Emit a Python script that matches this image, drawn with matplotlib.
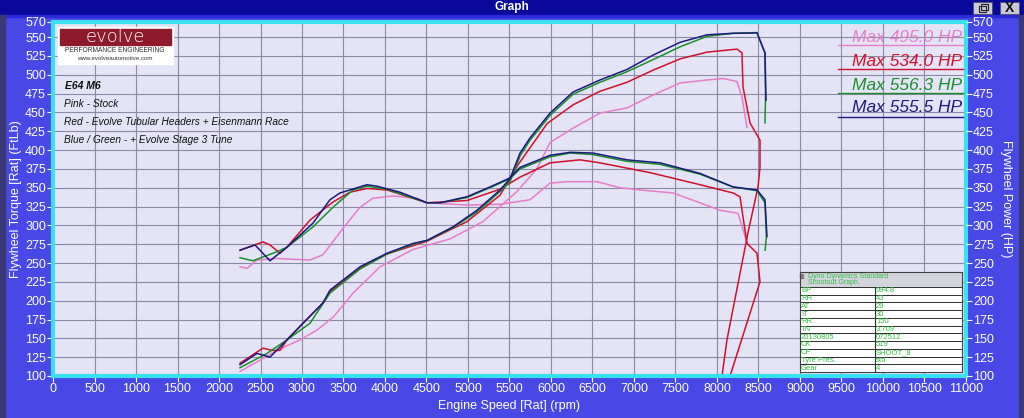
import matplotlib.pyplot as plt
import matplotlib.patches as mpatches
import numpy as np

W, H = 1024, 418

# ---- data ----
pink_tq_rpm = [2253, 2337, 2458, 2699, 3096, 3253, 3494, 3699, 3855, 4096, 4386, 4506, 4988, 5386, 5747, 5988, 6193, 6554, 6831, 7072, 7470, 7795, 8036, 8253, 8361]
pink_tq = [245, 243, 254, 256, 254, 261, 296, 324, 336, 339, 336, 330, 327, 328, 334, 356, 358, 358, 350, 347, 343, 330, 320, 316, 277]
pink_hp_rpm = [2253, 2699, 2976, 3181, 3373, 3542, 3614, 3940, 4337, 4783, 5181, 5590, 5830, 5988, 6265, 6590, 6916, 7229, 7554, 7880, 8072, 8241, 8301, 8361]
pink_hp = [106, 134, 148, 161, 178, 200, 210, 245, 268, 282, 305, 345, 375, 410, 429, 449, 456, 473, 489, 493, 495, 491, 470, 430]

red_tq_rpm = [2253, 2530, 2614, 2735, 2819, 3096, 3373, 3578, 3783, 4024, 4506, 4988, 5386, 5627, 5988, 6349, 6590, 7193, 7795, 8193, 8277, 8361, 8482, 8518, 8157]
red_tq = [267, 278, 274, 263, 271, 307, 331, 344, 349, 347, 330, 333, 348, 364, 383, 387, 383, 370, 354, 343, 338, 276, 263, 225, 100]
red_hp_rpm = [2253, 2530, 2639, 2735, 2819, 3012, 3253, 3337, 3699, 4024, 4506, 4988, 5386, 5600, 5831, 5952, 6265, 6590, 6916, 7229, 7554, 7880, 8241, 8301, 8313, 8398, 8518, 8518, 8494, 8373, 8120, 8060]
red_hp = [117, 137, 134, 134, 148, 170, 197, 212, 243, 262, 279, 305, 340, 380, 416, 435, 460, 478, 490, 506, 521, 530, 534, 529, 484, 436, 413, 377, 351, 290, 148, 100]

green_tq_rpm = [2253, 2410, 2699, 2819, 3133, 3373, 3614, 3783, 4024, 4506, 4663, 4988, 5265, 5506, 5627, 5988, 6229, 6506, 6916, 7313, 7795, 8193, 8482, 8578, 8595, 8580]
green_tq = [257, 253, 265, 271, 298, 324, 347, 352, 348, 330, 330, 337, 350, 362, 375, 391, 396, 394, 385, 381, 368, 351, 346, 330, 285, 267]
green_hp_rpm = [2253, 2578, 2819, 3096, 3337, 3699, 4024, 4337, 4506, 4819, 5108, 5386, 5506, 5627, 5747, 5988, 6265, 6590, 6916, 7229, 7554, 7880, 8193, 8482, 8578, 8585, 8578]
green_hp = [111, 130, 148, 170, 210, 242, 262, 275, 280, 297, 318, 345, 358, 392, 413, 446, 474, 490, 504, 520, 537, 551, 555, 556, 529, 470, 436]

blue_tq_rpm = [2253, 2434, 2614, 2819, 3133, 3337, 3458, 3783, 3904, 4181, 4506, 4663, 4988, 5265, 5506, 5627, 5988, 6229, 6506, 6916, 7313, 7795, 8193, 8482, 8578, 8602]
blue_tq = [267, 274, 253, 271, 303, 334, 343, 354, 352, 344, 330, 330, 338, 351, 363, 377, 393, 397, 396, 387, 383, 369, 351, 347, 334, 285]
blue_hp_rpm = [2253, 2458, 2614, 2819, 3012, 3253, 3337, 3699, 4024, 4337, 4506, 4819, 5108, 5386, 5506, 5627, 5747, 5988, 6265, 6590, 6916, 7229, 7554, 7880, 8193, 8482, 8578, 8590]
blue_hp = [115, 130, 125, 148, 170, 197, 214, 245, 263, 276, 280, 298, 320, 347, 362, 396, 416, 449, 477, 493, 507, 526, 543, 553, 555, 555.5, 529, 466]

max_labels = ["Max 495.0 HP", "Max 534.0 HP", "Max 556.3 HP", "Max 555.5 HP"]
notes = ["Pink - Stock", "Red - Evolve Tubular Headers + Eisenmann Race", "Blue / Green - + Evolve Stage 3 Tune"]
table_keys = ["BP", "RH", "AT", "IT", "RR", "TN", "20130805", "CK", "CF", "Tyre Pres.", "Gear"]
table_vals = ["994.8", "43", "29", "30", "150", "3.709", "072512", "519", "SHOOT_8", "std", "4"]

PINK, RED, GREEN, BLUE = "#e87cc8", "#d0102c", "#18902a", "#1c1a7c"

plt.rcParams['font.family'] = ['Liberation Sans', 'DejaVu Sans']


def fx(x):
    return x / W


def fy(y):
    return 1 - y / H


def rect(x, y, w, h, **kw):
    # rectangle given in screen pixels (top-left corner, size)
    fig.add_artist(mpatches.Rectangle((fx(x), fy(y + h)), w / W, h / H, transform=fig.transFigure, **kw))


fig = plt.figure(figsize=(W / 100, H / 100), dpi=100)
fig.patch.set_facecolor("#4848e6")

# window chrome
rect(0, 0, W, 15, color="#08089a", zorder=0)
rect(0, 15, W, 2, color="#2a2ad8", zorder=0)
rect(0, 15, 5, H, color="#3a3a78", zorder=0)
rect(1019, 15, 5, H, color="#3a3a78", zorder=0)
fig.text(0.5, fy(7), "Graph", color="white", fontsize=8.5, fontweight="bold", ha="center", va="center")
for x0 in (973, 1000):
    rect(x0, 2, 19, 12, facecolor="#c8c8d8", edgecolor="#505060", lw=0.6)
rect(979, 6, 7, 6, facecolor="none", edgecolor="#202020", lw=0.8)
rect(981, 4, 7, 6, facecolor="none", edgecolor="#202020", lw=0.8)
fig.text(fx(1009.5), fy(8), "X", fontsize=10, ha="center", va="center", color="#101010", fontweight="bold")

ax = fig.add_axes([fx(53), fy(376), 913 / W, 354 / H])
ax.set_facecolor("#e4e4f6")
ax.set_xlim(0, 11000)
ax.set_ylim(100, 570)
ax.set_xticks(np.arange(0, 11001, 500))
ax.set_yticks(list(range(100, 551, 25)) + [570])
ax.grid(True, color="#8a8aa6", lw=0.8)
ax.set_axisbelow(True)
for s in ax.spines.values():
    s.set_color("#3ae0f2")
    s.set_linewidth(3)
ax.tick_params(colors="white", labelsize=9, length=4, width=0.8, pad=1)

ax2 = ax.twinx()
ax2.set_ylim(100, 570)
ax2.set_yticks(list(range(100, 551, 25)) + [570])
ax2.tick_params(colors="white", labelsize=9, length=4, width=0.8, pad=1)
for s in ax2.spines.values():
    s.set_visible(False)

ax.set_xlabel("Engine Speed [Rat] (rpm)", color="white", fontsize=9, labelpad=4)
ax.set_ylabel("Flywheel Torque [Rat] (FtLb)", color="white", fontsize=9, labelpad=2)
ax2.set_ylabel("Flywheel Power (HP)", color="white", fontsize=9, rotation=270, labelpad=13)

lw = 1.1
ax.plot(pink_tq_rpm, pink_tq, color=PINK, lw=lw)
ax.plot(pink_hp_rpm, pink_hp, color=PINK, lw=lw)
ax.plot(red_tq_rpm, red_tq, color=RED, lw=lw)
ax.plot(red_hp_rpm, red_hp, color=RED, lw=lw)
ax.plot(green_tq_rpm, green_tq, color=GREEN, lw=lw)
ax.plot(green_hp_rpm, green_hp, color=GREEN, lw=lw)
ax.plot(blue_tq_rpm, blue_tq, color=BLUE, lw=lw)
ax.plot(blue_hp_rpm, blue_hp, color=BLUE, lw=lw)

# logo
rect(58, 27, 115, 37, color="white")
rect(60, 29, 111, 16, color="#8e1a2c")
fig.text(fx(115), fy(37.5), "evolve", color="white", fontsize=13, ha="center", va="center", fontweight="light",
         family=["DejaVu Sans"])
fig.text(fx(115), fy(50), "PERFORMANCE ENGINEERING", color="#303030", fontsize=4.8, ha="center", va="center")
fig.text(fx(115), fy(59), "www.evolveautomotive.com", color="#303030", fontsize=4.4, ha="center", va="center")

# notes
fig.text(fx(65), fy(86), "E64 M6", fontsize=7.5, style="italic", fontweight="bold", va="center", color="#101010")
for i, t in enumerate(notes):
    fig.text(fx(64), fy(104 + 18 * i), t, fontsize=7.3, style="italic", va="center", color="#101010")

# max labels
for t, c, yc, yu in zip(max_labels, [PINK, RED, GREEN, BLUE], [38, 62, 85, 107], [45, 69, 93, 117]):
    fig.text(fx(962), fy(yc), t, fontsize=12.5, style="italic", color=c, ha="right", va="center")
    fig.add_artist(plt.Line2D([fx(838), fx(963)], [fy(yu), fy(yu)], transform=fig.transFigure, color=c, lw=1))

# dyno info table
x0, x1, xm = 800, 962, 875
ytop, yrow0, ybot = 272, 287, 372
rect(x0, ytop, x1 - x0, yrow0 - ytop, color="#d4d4dc")
rect(x0, ytop + 2, 3, 4, color="#808080")
fig.text(fx(808), fy(276), "Dyno Dynamics Standard", fontsize=5, color="#30c040", va="center")
fig.text(fx(808), fy(282), "Shootout Graph.", fontsize=5, color="#30c040", va="center")
rh = (ybot - yrow0) / len(table_keys)
for i, (k, v) in enumerate(zip(table_keys, table_vals)):
    yt = yrow0 + i * rh
    rect(x0, yt, x1 - x0, rh, facecolor="white", edgecolor="#303030", lw=0.7)
    fig.text(fx(x0 + 1), fy(yt + rh / 2), k, fontsize=5.5, color="#30c040", va="center")
    fig.text(fx(xm + 1), fy(yt + rh / 2), v, fontsize=5.5, color="#30c040", va="center")
fig.add_artist(plt.Line2D([fx(xm), fx(xm)], [fy(yrow0), fy(ybot)], transform=fig.transFigure, color="#303030", lw=0.8))
rect(x0, ytop, x1 - x0, ybot - ytop, fill=False, edgecolor="#404040", lw=0.8)

fig.savefig("out.png", dpi=100, facecolor=fig.get_facecolor())
